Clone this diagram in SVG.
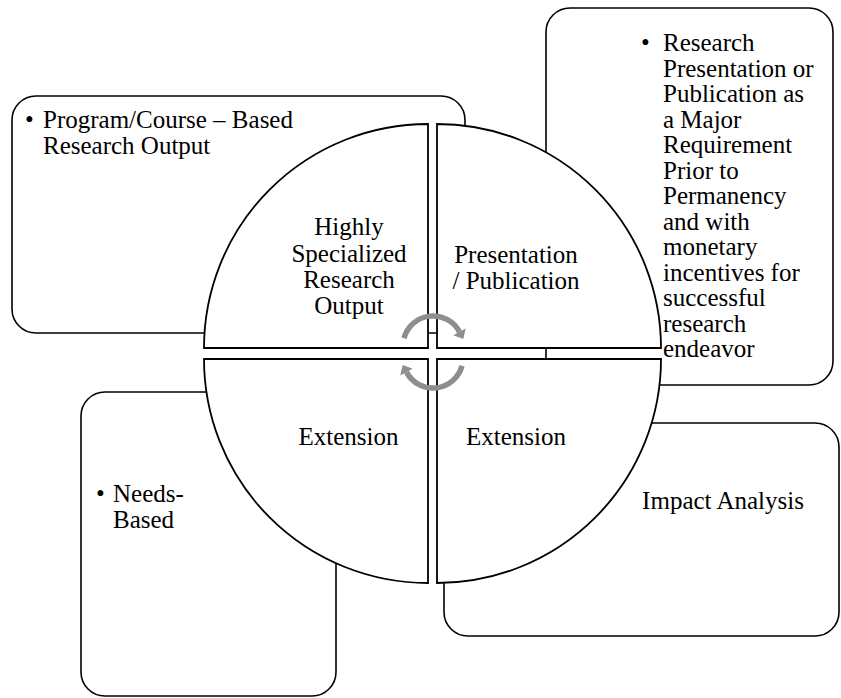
<svg xmlns="http://www.w3.org/2000/svg" width="841" height="698" viewBox="0 0 841 698">
<style>
.box{fill:#fff;stroke:#000;stroke-width:1.6}
.q{fill:#fff;stroke:#000;stroke-width:1.8}
.t{font-family:"Liberation Serif","Times New Roman",serif;font-size:25px;fill:#000}
.c{text-anchor:middle}
.arc{fill:none;stroke:#8e8e8e;stroke-width:5.5}
.head{fill:#8e8e8e}
</style>
<rect width="841" height="698" fill="#fff"/>
<g id="box-tl"><rect class="box" x="12" y="96" width="453" height="237" rx="24"/>
<text class="t" x="25" y="128">•</text><text class="t" x="43" y="128">Program/Course – Based</text><text class="t" x="43" y="154">Research Output</text></g>
<g id="box-tr"><rect class="box" x="546" y="8" width="287" height="377" rx="24"/>
<text class="t" x="641" y="51">•</text>
<text class="t" x="663" y="51">Research</text>
<text class="t" x="663" y="76.5">Presentation or</text>
<text class="t" x="663" y="102">Publication as</text>
<text class="t" x="663" y="127.5">a Major</text>
<text class="t" x="663" y="153">Requirement</text>
<text class="t" x="663" y="178.5">Prior to</text>
<text class="t" x="663" y="204">Permanency</text>
<text class="t" x="663" y="229.5">and with</text>
<text class="t" x="663" y="255">monetary</text>
<text class="t" x="663" y="280.5">incentives for</text>
<text class="t" x="663" y="306">successful</text>
<text class="t" x="663" y="331.5">research</text>
<text class="t" x="663" y="357">endeavor</text></g>
<g id="box-br"><rect class="box" x="444" y="423" width="395" height="213" rx="24"/>
<text class="t c" x="723" y="509">Impact Analysis</text></g>
<g id="box-bl"><rect class="box" x="81" y="392" width="255" height="304" rx="24"/>
<text class="t" x="96" y="502">•</text><text class="t" x="113" y="502">Needs-</text><text class="t" x="113" y="528">Based</text></g>
<g id="q-tl"><path class="q" d="M428 348 L204 348 A224 224 0 0 1 428 124 Z"/>
<text class="t c" x="349" y="235">Highly</text><text class="t c" x="349" y="262">Specialized</text><text class="t c" x="349" y="288">Research</text><text class="t c" x="349" y="314">Output</text></g>
<g id="q-tr"><path class="q" d="M437 348 L437 124 A224 224 0 0 1 661 348 Z"/>
<text class="t c" x="516" y="263">Presentation</text><text class="t c" x="516" y="289">/ Publication</text></g>
<g id="q-bl"><path class="q" d="M428 359 L428 583 A224 224 0 0 1 204 359 Z"/>
<text class="t c" x="348.5" y="445">Extension</text></g>
<g id="q-br"><path class="q" d="M437 359 L661 359 A224 224 0 0 1 437 583 Z"/>
<text class="t c" x="516" y="445">Extension</text></g>
<g id="connectors">
<path class="arc" d="M404 338.2 A30 30 0 0 1 459.5 331.9"/>
<polygon class="head" points="465.7,328.6 453.3,335.2 463.3,339"/>
<path class="arc" d="M462 365.8 A30 30 0 0 1 406.5 372.1"/>
<polygon class="head" points="400.3,375.4 412.7,368.8 402.7,365"/>
</g>
</svg>
